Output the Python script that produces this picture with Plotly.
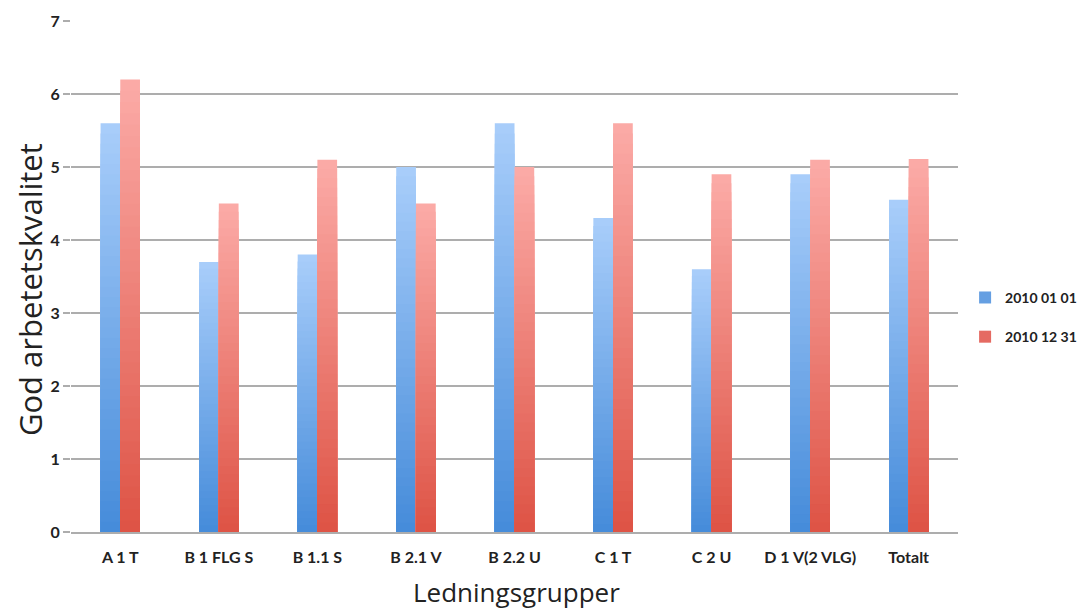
import plotly.graph_objects as go

categories = ["A 1 T", "B 1 FLG S", "B 1.1 S", "B 2.1 V", "B 2.2 U",
              "C 1 T", "C 2 U", "D 1 V(2 VLG)", "Totalt"]
series_names = ["2010 01 01", "2010 12 31"]
values_2010_01_01 = [5.6, 3.7, 3.8, 5.0, 5.6, 4.3, 3.6, 4.9, 4.55]
values_2010_12_31 = [6.2, 4.5, 5.1, 4.5, 5.0, 5.6, 4.9, 5.1, 5.11]
y_ticks = [0, 1, 2, 3, 4, 5, 6, 7]
x_title = "Ledningsgrupper"
y_title = "God arbetetskvalitet"

# gradient colours (top -> bottom)
grad = {
    "2010 01 01": ((168, 205, 250), (70, 140, 218)),
    "2010 12 31": ((251, 170, 166), (222, 84, 70)),
}
legend_colors = {"2010 01 01": "#659fe2", "2010 12 31": "#e56a62"}

N = 40
fig = go.Figure()
for name, vals in zip(series_names, [values_2010_01_01, values_2010_12_31]):
    top, bot = grad[name]
    for k in range(N):
        f = k / (N - 1)
        c = tuple(round(top[j] + (bot[j] - top[j]) * f) for j in range(3))
        frac = 1 - k / N
        fig.add_trace(go.Bar(
            x=categories,
            y=[v * frac for v in vals],
            offsetgroup=name,
            legendgroup=name,
            name=name,
            showlegend=False,
            marker=dict(color="rgb(%d,%d,%d)" % c, line=dict(width=0)),
            hoverinfo="skip",
        ))
    # legend entry
    fig.add_trace(go.Bar(
        x=categories, y=[None] * len(categories), offsetgroup=name,
        legendgroup=name, name=name, showlegend=True,
        marker=dict(color=legend_colors[name], line=dict(width=0)),
    ))

fig.update_layout(
    width=1089, height=608,
    barmode="group", bargap=0.6, bargroupgap=0,
    paper_bgcolor="white", plot_bgcolor="white",
    margin=dict(l=63, r=139, t=13, b=84, autoexpand=False),
    font=dict(family="Lato, sans-serif", color="#222"),
    legend=dict(x=1.008, y=0.42, xanchor="left", yanchor="middle",
                font=dict(size=14, color="#222", family="Lato, sans-serif", weight="bold"),
                tracegroupgap=18, itemwidth=30),
    annotations=[
        dict(text=y_title, textangle=-90, xref="paper", yref="paper",
             x=-0.047, y=0.474, xanchor="center", yanchor="middle", showarrow=False,
             font=dict(size=31, family="Open Sans, sans-serif", color="#222")),
        dict(text=x_title, xref="paper", yref="paper",
             x=0.502, y=-0.117, xanchor="center", yanchor="middle", showarrow=False,
             font=dict(size=26, family="Open Sans, sans-serif", color="#222")),
    ],
)
fig.update_yaxes(
    range=[0, 7], tickvals=y_ticks, showgrid=True, gridcolor="#adadad",
    gridwidth=1.5, zeroline=False, showline=False, ticks="outside",
    ticklen=7, tickcolor="#adadad", tickwidth=1.5, automargin=False,
    tickfont=dict(size=16, family="Lato, sans-serif", color="#222", weight="bold"),
)
fig.update_xaxes(
    showline=True, linecolor="#adadad", linewidth=1.5, ticks="", automargin=False,
    ticklabelstandoff=10,
    tickfont=dict(size=16, family="Lato, sans-serif", color="#222", weight="bold"),
)
fig.write_html("out.html")
